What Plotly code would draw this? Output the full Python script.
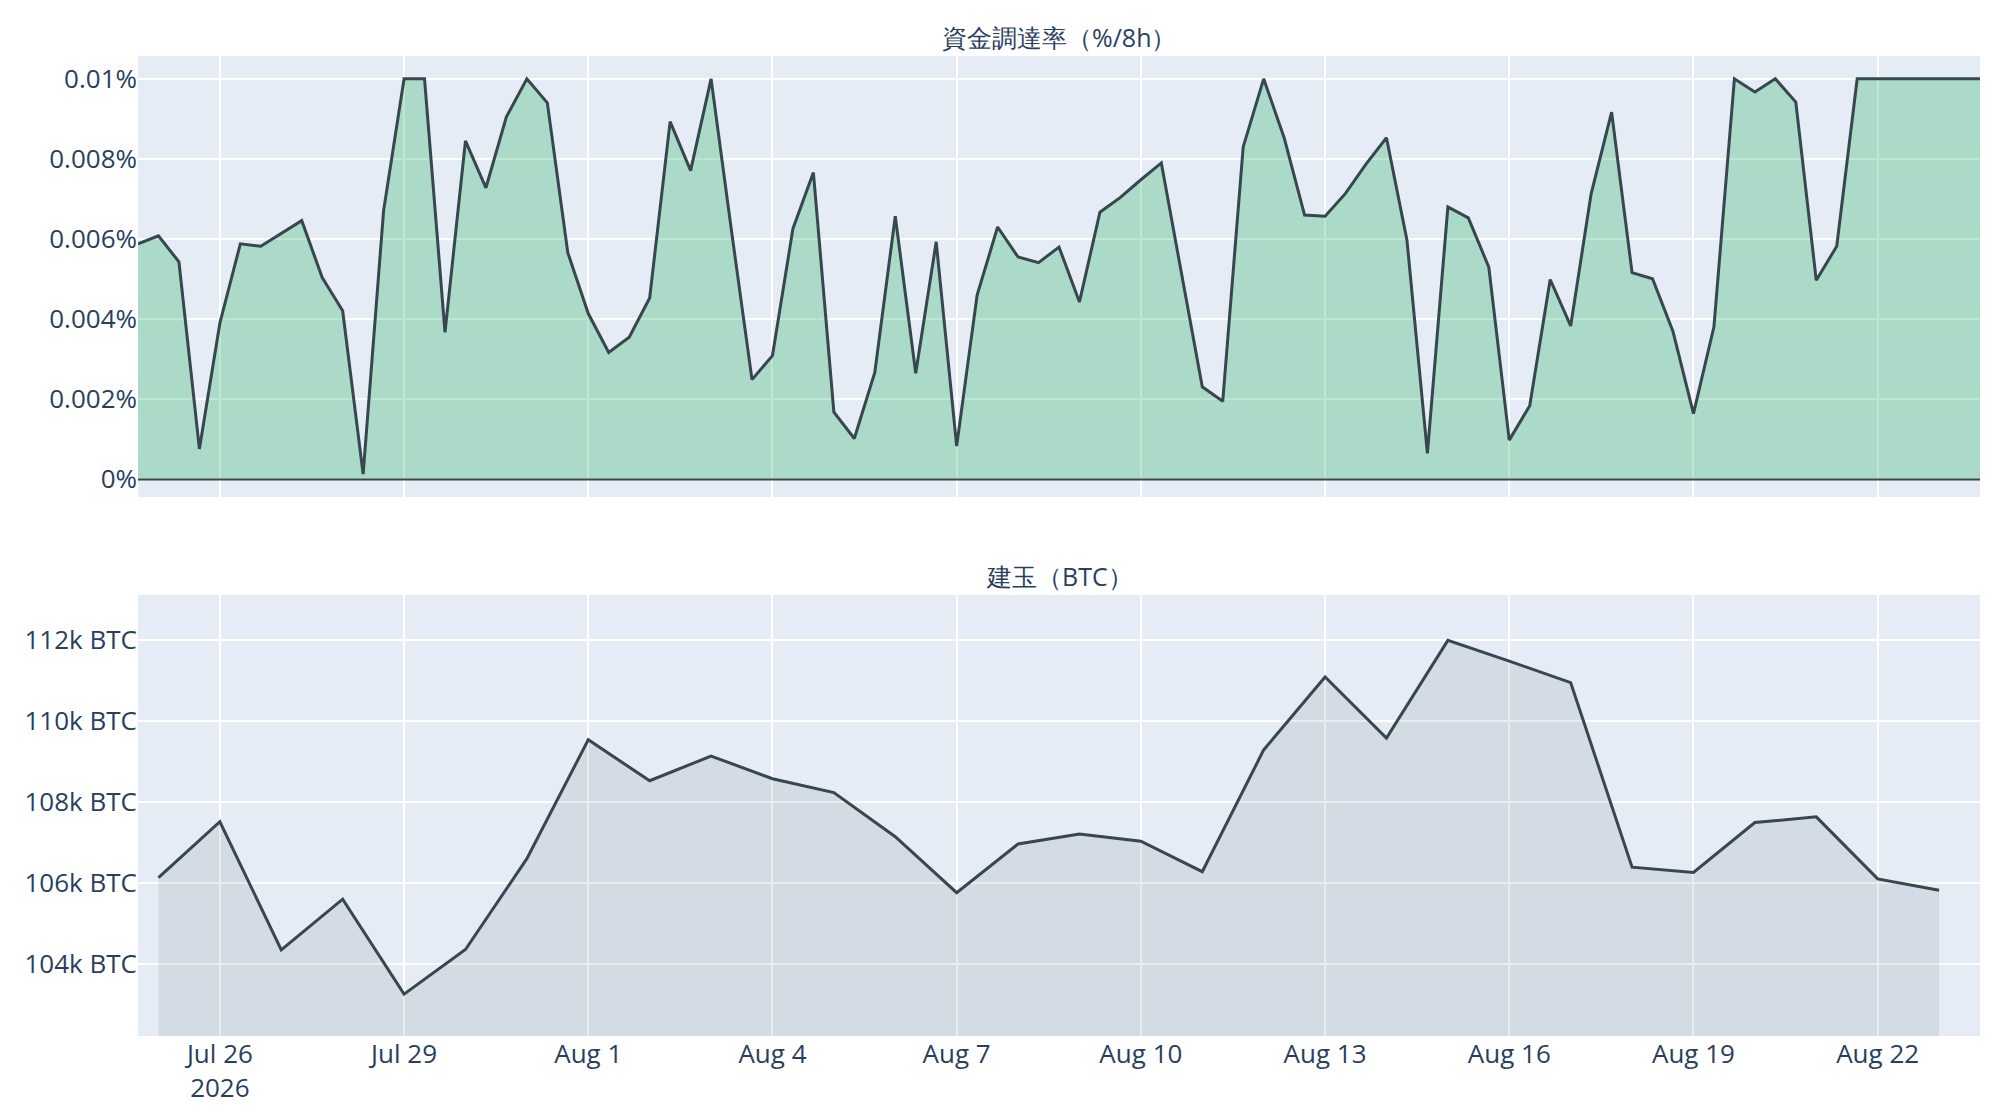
import pandas as pd
import plotly.graph_objects as go
from plotly.subplots import make_subplots


# funding rate, every 8h (values in %)
FUNDING_START = "2026-07-24 16:00"
FUNDING_RATE = [
    0.00588, 0.00608, 0.00543, 0.00076, 0.0039, 0.00588, 0.00582, 0.00613,
    0.00646, 0.00504, 0.00421, 0.00013, 0.00671, 0.0100, 0.0100, 0.00367,
    0.00845, 0.00728, 0.00905, 0.0100, 0.0094, 0.00566, 0.00414, 0.00317,
    0.00355, 0.00453, 0.00893, 0.00771, 0.0100, 0.0062, 0.00249, 0.00309,
    0.00626, 0.00766, 0.00168, 0.00102, 0.00267, 0.00657, 0.00265, 0.00593,
    0.00083, 0.0046, 0.0063, 0.00555, 0.00541, 0.0058, 0.00443, 0.00667,
    0.00704, 0.00748, 0.0079, 0.0051, 0.00231, 0.00195, 0.0083, 0.0100,
    0.00853, 0.0066, 0.00657, 0.00714, 0.00787, 0.00853, 0.00598, 0.00065,
    0.0068, 0.00653, 0.0053, 0.00098, 0.00184, 0.00499, 0.00383, 0.00713,
    0.00917, 0.00516, 0.00501, 0.00369, 0.00164, 0.00381, 0.0100, 0.00967,
    0.0100, 0.00942, 0.00497, 0.00582, 0.0100, 0.0100, 0.0100, 0.0100,
    0.0100, 0.0100, 0.0100,
]

# open interest, daily (BTC)
OI_START = "2026-07-25"
OPEN_INTEREST = [
    106130, 107510, 104350, 105600, 103260, 104360, 106600, 109530, 108520,
    109130, 108570, 108230, 107140, 105760, 106960, 107210, 107030, 106280,
    109280, 111080, 109570, 111980, 111470, 110940, 106390, 106260, 107490,
    107630, 106100, 105820,
]

TITLES = ["資金調達率（%/8h）", "建玉（BTC）"]

LINE_COLOR = "#37474F"
TICK_SIZE = 26
TITLE_SIZE = 25


def main():
    funding_x = pd.date_range(FUNDING_START, periods=len(FUNDING_RATE), freq="8h")
    oi_x = pd.date_range(OI_START, periods=len(OPEN_INTEREST), freq="D")

    fig = make_subplots(
        rows=2,
        cols=1,
        shared_xaxes=True,
        vertical_spacing=0.1,
        subplot_titles=TITLES,
    )
    fig.add_trace(
        go.Scatter(
            x=funding_x,
            y=FUNDING_RATE,
            mode="lines",
            fill="tozeroy",
            fillcolor="rgba(39,174,96,0.3)",
            line=dict(color=LINE_COLOR, width=3),
        ),
        row=1,
        col=1,
    )
    fig.add_trace(
        go.Scatter(
            x=oi_x,
            y=OPEN_INTEREST,
            mode="lines",
            fill="tozeroy",
            fillcolor="rgba(55,71,79,0.1)",
            line=dict(color=LINE_COLOR, width=3),
        ),
        row=2,
        col=1,
    )
    fig.add_hline(y=0, row=1, col=1, line_color=LINE_COLOR, line_width=2)

    # page body adds 8px around the figure, margins are set to compensate
    fig.update_layout(
        showlegend=False,
        margin=dict(l=130, r=12, t=48, b=76),
        font=dict(size=TICK_SIZE),
    )
    fig.update_annotations(font_size=TITLE_SIZE)
    fig.update_xaxes(
        dtick=3 * 86400000,
        tick0="2026-07-26",
        gridwidth=2,
        tickfont_size=TICK_SIZE,
        automargin=False,
    )
    fig.update_yaxes(
        gridwidth=2, tickfont_size=TICK_SIZE, zeroline=False, automargin=False
    )
    fig.update_yaxes(
        range=[-0.00044, 0.01057], dtick=0.002, ticksuffix="%", row=1, col=1
    )
    fig.update_yaxes(
        range=[min(OPEN_INTEREST) * 0.99, max(OPEN_INTEREST) * 1.01],
        dtick=2000,
        ticksuffix=" BTC",
        row=2,
        col=1,
    )
    fig.write_html("out.html")


if __name__ == "__main__":
    main()
